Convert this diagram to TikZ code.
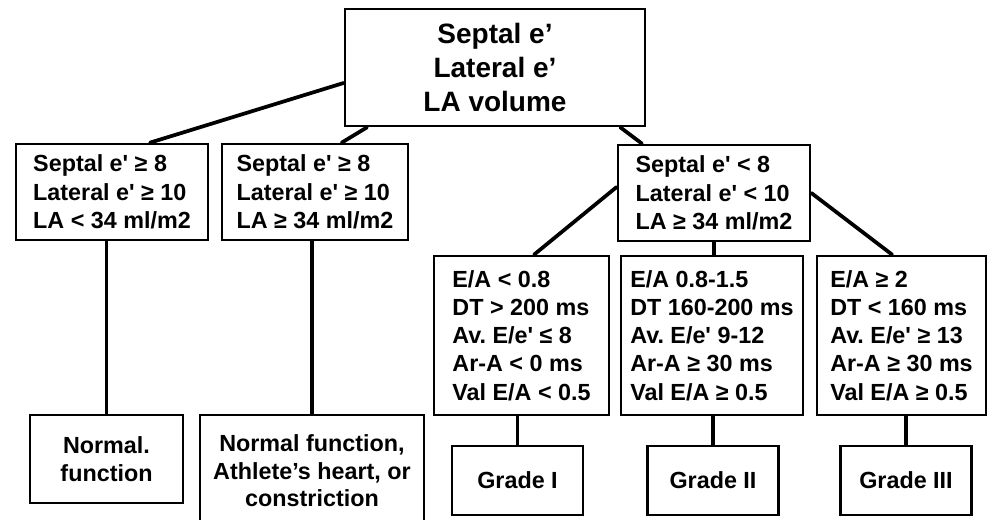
\documentclass[tikz,border=0pt]{standalone}
\usepackage{fontspec}
\setmainfont{Liberation Sans}
\newcommand{\epr}{\textquotesingle}

\begin{document}
\frenchspacing
\begin{tikzpicture}[x=0.75pt, y=-0.75pt,
  every node/.style={font=\fontsize{17.5}{21.2}\selectfont\bfseries, inner sep=0pt},
  crit/.style={rectangle, draw=black, line width=2pt, align=left},
  res/.style={rectangle, draw=black, line width=2pt, align=center},
  lnk/.style={line width=2.8pt, line cap=round}
]
\useasboundingbox (0,0) rectangle (989,520);

% Root
\node[res, minimum width=225pt, minimum height=87.75pt,
  font=\fontsize{21}{25.5}\selectfont\bfseries] (top) at (495,67.5)
  {Septal e’\\Lateral e’\\LA volume};

% First level
\node[crit, minimum width=144pt, minimum height=72pt] (a) at (112,192)
  {Septal e\epr{} ≥ 8\\Lateral e\epr{} ≥ 10\\LA < 34 ml/m2};
\node[crit, minimum width=139.5pt, minimum height=72pt] (b) at (315,192)
  {Septal e\epr{} ≥ 8\\Lateral e\epr{} ≥ 10\\LA ≥ 34 ml/m2};
\node[crit, minimum width=144pt, minimum height=72pt] (c) at (714,193)
  {Septal e\epr{} < 8\\Lateral e\epr{} < 10\\LA ≥ 34 ml/m2};

% Doppler criteria
\node[crit, minimum width=131.25pt, minimum height=119.25pt] (d1) at (521.5,335.5)
  {E/A < 0.8\\DT > 200 ms\\Av. E/e\epr{} ≤ 8\\Ar-A < 0 ms\\Val E/A < 0.5};
\node[crit, minimum width=136.5pt, minimum height=119.25pt] (d2) at (712,335.5)
  {E/A 0.8-1.5\\DT 160-200 ms\\Av. E/e\epr{} 9-12\\Ar-A ≥ 30 ms\\Val E/A ≥ 0.5};
\node[crit, minimum width=126.75pt, minimum height=119.25pt] (d3) at (901.5,335.5)
  {E/A ≥ 2\\DT < 160 ms\\Av. E/e\epr{} ≥ 13\\Ar-A ≥ 30 ms\\Val E/A ≥ 0.5};

% Outcomes
\node[res, minimum width=114.75pt, minimum height=66pt] (n1) at (106.5,459)
  {Normal.\\function};
\node[res, minimum width=168pt, minimum height=84pt, font=\fontsize{17.5}{20.6}\selectfont\bfseries] (n2) at (312,471)
  {Normal function,\\Athlete’s heart, or\\constriction};
\node[res, minimum width=98.25pt, minimum height=51.75pt] (g1) at (517.5,480.5) {Grade I};
\node[res, minimum width=98.25pt, minimum height=51.75pt] (g2) at (713,480.5) {Grade II};
\node[res, minimum width=98.25pt, minimum height=51.75pt] (g3) at (906,480.5) {Grade III};

% Connectors
\draw[lnk] ([xshift=28.5pt]a.north) -- ([yshift=-11.6pt]top.west);
\draw[lnk] ([xshift=20pt]b.north) -- ([xshift=-96pt]top.south);
\draw[lnk] ([xshift=94pt]top.south) -- ([xshift=-54pt]c.north);
\draw[lnk] ([yshift=4.5pt]c.west) -- ([xshift=9.4pt]d1.north);
\draw[lnk] (c.south) -- (c.south |- d2.north);
\draw[lnk] (c.east) -- ([xshift=-7pt]d3.north);
\draw[lnk] (n1.north |- a.south) -- (n1.north);
\draw[lnk] (n2.north |- b.south) -- (n2.north);
\draw[lnk] (g1.north |- d1.south) -- (g1.north);
\draw[lnk] (g2.north |- d2.south) -- (g2.north);
\draw[lnk] (g3.north |- d3.south) -- (g3.north);
\end{tikzpicture}
\end{document}
